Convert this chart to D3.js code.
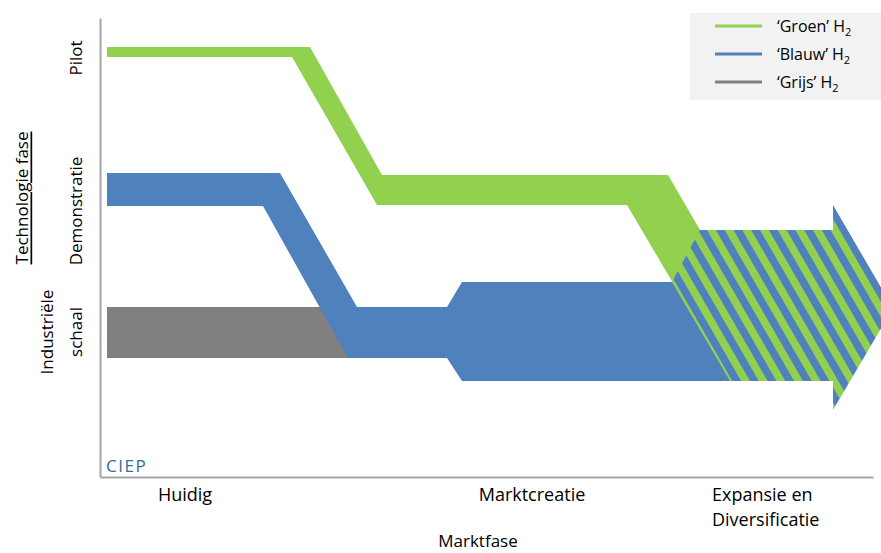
<!DOCTYPE html>
<html>
<head>
<meta charset="utf-8">
<script src="https://cdn.jsdelivr.net/npm/d3@7"></script>
<style>
  body { margin: 0; background: #fff; }
  text { font-family: "Open Sans", sans-serif; fill: #000; }
</style>
</head>
<body>
<div id="chart"></div>
<script>
// path outlines in chart units (x = marktfase, y = technologie niveau)
var grijsPad = [[7,170],[260,170],[260,119],[7,119]];
var groenPad = [[7,430],[210,430],[282,302],[568,302],[631,194],[573,194],[527,272],[277,272],[192,420],[7,420]];
var blauwPad = [[7,304],[180,304],[257,170],[347,170],[362,195],[660,195],[660,96],[362,96],[347,119],[248,119],[163,271],[7,271]];
var pijlPad  = [[600,247],[733,247],[733,272],[793,169],[733,67],[733,96],[630,96],[572,195]];

// axis labels
var techFasen = [
  {lines: ['Pilot'], level: 419},
  {lines: ['Demonstratie'], level: 266},
  {lines: ['Industriële', 'schaal'], level: 145}
];
var marktFasen = [
  {lines: ['Huidig'], pos: 85, anchor: 'middle'},
  {lines: ['Marktcreatie'], pos: 432, anchor: 'middle'},
  {lines: ['Expansie en', 'Diversificatie'], pos: 612, anchor: 'start'}
];
var legenda = [
  {name: '\u2018Groen\u2019 H', color: '#92d050'},
  {name: '\u2018Blauw\u2019 H', color: '#4f81bd'},
  {name: '\u2018Grijs\u2019 H', color: '#808080'}
];

var width = 881, height = 553;
var x = d3.scaleLinear().domain([0, 773]).range([100, 873]);
var y = d3.scaleLinear().domain([0, 459]).range([477, 18]);

var svg = d3.select('#chart').append('svg')
  .attr('width', width).attr('height', height);

// stripes for the arrow
var pat = svg.append('defs').append('pattern')
  .attr('id', 'streep')
  .attr('patternUnits', 'userSpaceOnUse')
  .attr('width', 15.3).attr('height', 40)
  .attr('patternTransform', 'rotate(-30)');
pat.append('rect').attr('width', 15.3).attr('height', 40).attr('fill', '#92d050');
pat.append('rect').attr('width', 7.65).attr('height', 40).attr('fill', '#4f81bd');

var line = d3.line().x(function(d){return x(d[0])}).y(function(d){return y(d[1])});

svg.append('path').datum(grijsPad).attr('d', function(d){return line(d) + 'Z'}).attr('fill', '#808080');
svg.append('path').datum(groenPad).attr('d', function(d){return line(d) + 'Z'}).attr('fill', '#92d050');
svg.append('path').datum(blauwPad).attr('d', function(d){return line(d) + 'Z'}).attr('fill', '#4f81bd');
svg.append('path').datum(pijlPad).attr('d', function(d){return line(d) + 'Z'}).attr('fill', 'url(#streep)');

// axes, no ticks
svg.append('g').attr('transform', 'translate(100,0)')
  .call(d3.axisLeft(y).ticks(0).tickSizeOuter(0));
svg.append('g').attr('transform', 'translate(0,477)')
  .call(d3.axisBottom(x).ticks(0).tickSizeOuter(0));
svg.selectAll('.domain').attr('stroke', '#a6a6a6').attr('stroke-width', 2);

// CIEP mark
svg.append('text').attr('x', 106).attr('y', 472)
  .style('font-size', '17px').style('letter-spacing', '1.5px').style('fill', '#2f6e9c')
  .text('CIEP');

// y labels (rotated)
techFasen.forEach(function(d){
  var n = d.lines.length;
  d.lines.forEach(function(l, i){
    var cx = 75 - (n - 1 - i) * 29;
    svg.append('text')
      .attr('transform', 'translate(' + cx + ',' + y(d.level) + ') rotate(-90)')
      .attr('text-anchor', 'middle').attr('dominant-baseline', 'central')
      .style('font-size', '17px')
      .text(l);
  });
});
svg.append('text')
  .attr('transform', 'translate(21,198) rotate(-90)')
  .attr('text-anchor', 'middle').attr('dominant-baseline', 'central')
  .style('font-size', '17px').style('text-decoration', 'underline')
  .text('Technologie fase');

// x labels
marktFasen.forEach(function(d){
  d.lines.forEach(function(l, i){
    svg.append('text')
      .attr('x', x(d.pos)).attr('y', 501 + i * 25)
      .attr('text-anchor', d.anchor)
      .style('font-size', '18px')
      .text(l);
  });
});
svg.append('text').attr('x', 478).attr('y', 547)
  .attr('text-anchor', 'middle').style('font-size', '17px').text('Marktfase');

// legend
var leg = svg.append('g');
leg.append('rect').attr('x', 690).attr('y', 13).attr('width', 200).attr('height', 87).attr('fill', '#f2f2f2');
var items = leg.selectAll('g.item').data(legenda).enter().append('g').attr('class', 'item')
  .attr('transform', function(d, i){return 'translate(0,' + (26 + i * 28) + ')'});
items.append('line').attr('x1', 715).attr('x2', 762).attr('y1', 0).attr('y2', 0)
  .attr('stroke', function(d){return d.color}).attr('stroke-width', 3);
var t = items.append('text').attr('x', 777).attr('y', 6).style('font-size', '16px');
t.append('tspan').text(function(d){return d.name});
t.append('tspan').attr('dy', 4).style('font-size', '11px').text('2');
</script>
</body>
</html>
